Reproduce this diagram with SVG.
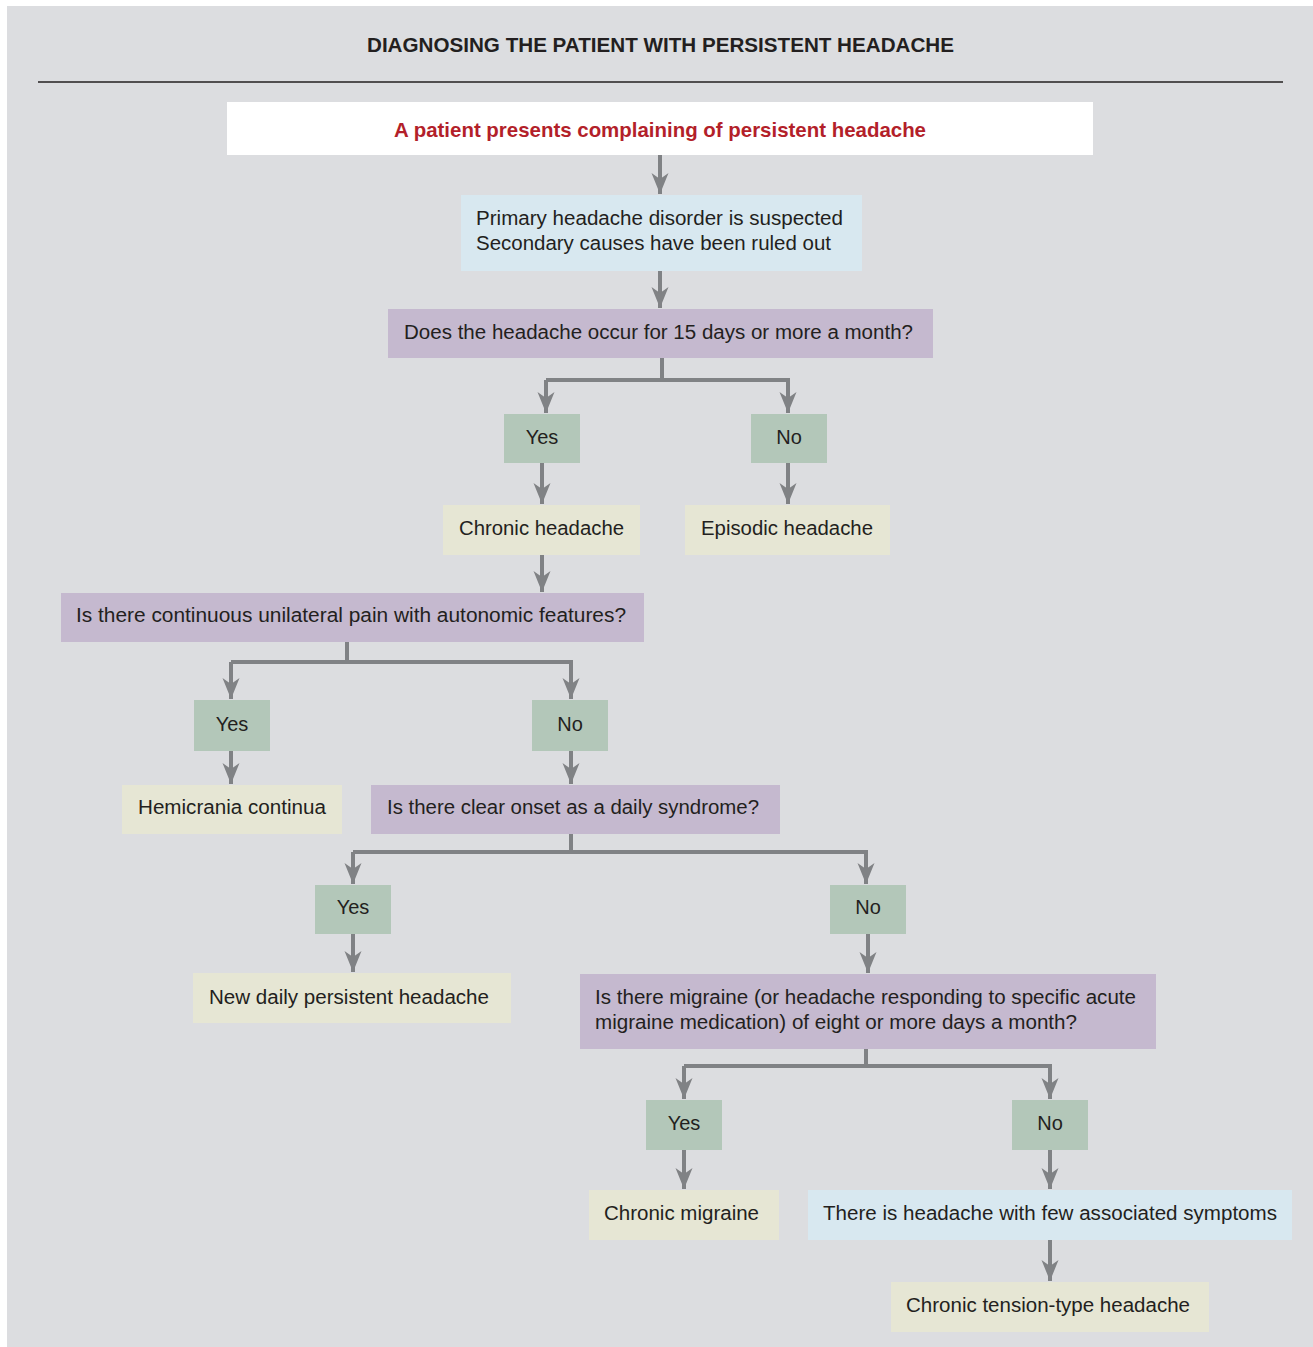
<svg xmlns="http://www.w3.org/2000/svg" width="1313" height="1347" viewBox="0 0 1313 1347">
<style>
.t{font-family:"Liberation Sans","DejaVu Sans",sans-serif;font-size:20px;fill:#231f20}
.yn{text-anchor:middle}
.title{font-family:"Liberation Sans",sans-serif;font-weight:bold;font-size:21px;fill:#231f20}
.red{font-family:"Liberation Sans",sans-serif;font-weight:bold;font-size:21px;fill:#b31f2a}
.p{fill:#c5b9cf}
.g{fill:#b3c7b9}
.b{fill:#e6e6d4}
.l{fill:#d8e8f0}
.w{fill:#ffffff}
.c{fill:none;stroke:#808285;stroke-width:4;marker-end:url(#ah)}
.s{fill:none;stroke:#808285;stroke-width:4}
</style>
<defs>
<marker id="ah" markerUnits="userSpaceOnUse" markerWidth="22" markerHeight="18" viewBox="0 0 22 18" refX="21" refY="9" orient="auto">
<path d="M21,9 L0,0.5 L6,9 L0,17.5 Z" fill="#808285"/>
</marker>
</defs>
<rect x="0" y="0" width="1313" height="1347" fill="#ffffff"/>
<rect x="7" y="6" width="1306" height="1341" fill="#dcdde0"/>
<g id="title">
<text class="title" x="367" y="52" textLength="587" lengthAdjust="spacingAndGlyphs">DIAGNOSING THE PATIENT WITH PERSISTENT HEADACHE</text>
<line x1="38" y1="82" x2="1283" y2="82" stroke="#231f20" stroke-width="1.5"/>
</g>
<g id="connectors">
<path class="c" d="M660,155 V194"/>
<path class="c" d="M660,271 V308"/>
<path class="s" d="M662,358 V380"/>
<path class="c" d="M546,380 H788 V413"/>
<path class="c" d="M546,380 V413"/>
<path class="c" d="M542,463 V504"/>
<path class="c" d="M788,463 V504"/>
<path class="c" d="M542,555 V592"/>
<path class="s" d="M347,642 V662"/>
<path class="c" d="M231,662 H571 V699"/>
<path class="c" d="M231,662 V699"/>
<path class="c" d="M231,751 V784"/>
<path class="c" d="M571,751 V784"/>
<path class="s" d="M571,834 V852"/>
<path class="c" d="M353,852 H866 V884"/>
<path class="c" d="M353,852 V884"/>
<path class="c" d="M353,934 V972"/>
<path class="c" d="M868,934 V973"/>
<path class="s" d="M866,1049 V1066"/>
<path class="c" d="M684,1066 H1050 V1099"/>
<path class="c" d="M684,1066 V1099"/>
<path class="c" d="M684,1150 V1189"/>
<path class="c" d="M1050,1150 V1189"/>
<path class="c" d="M1050,1240 V1281"/>
</g>
<g id="n-start"><rect class="w" x="227" y="102" width="866" height="53"/><text class="red" x="394" y="137" textLength="532" lengthAdjust="spacingAndGlyphs">A patient presents complaining of persistent headache</text></g>
<g id="n-primary"><rect class="l" x="461" y="195" width="401" height="76"/><text class="t" x="476" y="225" textLength="367" lengthAdjust="spacingAndGlyphs">Primary headache disorder is suspected</text><text class="t" x="476" y="250" textLength="355" lengthAdjust="spacingAndGlyphs">Secondary causes have been ruled out</text></g>
<g id="n-q1"><rect class="p" x="388" y="309" width="545" height="49"/><text class="t" x="404" y="339" textLength="509" lengthAdjust="spacingAndGlyphs">Does the headache occur for 15 days or more a month?</text></g>
<g id="n-q1-yes"><rect class="g" x="504" y="414" width="76" height="49"/><text class="t yn" x="542" y="444">Yes</text></g>
<g id="n-q1-no"><rect class="g" x="751" y="414" width="76" height="49"/><text class="t yn" x="789" y="444">No</text></g>
<g id="n-chronic"><rect class="b" x="443" y="505" width="197" height="50"/><text class="t" x="459" y="535" textLength="165" lengthAdjust="spacingAndGlyphs">Chronic headache</text></g>
<g id="n-episodic"><rect class="b" x="685" y="505" width="205" height="50"/><text class="t" x="701" y="535" textLength="172" lengthAdjust="spacingAndGlyphs">Episodic headache</text></g>
<g id="n-q2"><rect class="p" x="61" y="593" width="583" height="49"/><text class="t" x="76" y="622" textLength="550" lengthAdjust="spacingAndGlyphs">Is there continuous unilateral pain with autonomic features?</text></g>
<g id="n-q2-yes"><rect class="g" x="194" y="700" width="76" height="51"/><text class="t yn" x="232" y="731">Yes</text></g>
<g id="n-q2-no"><rect class="g" x="532" y="700" width="76" height="51"/><text class="t yn" x="570" y="731">No</text></g>
<g id="n-hemicrania"><rect class="b" x="122" y="785" width="220" height="49"/><text class="t" x="138" y="814" textLength="188" lengthAdjust="spacingAndGlyphs">Hemicrania continua</text></g>
<g id="n-q3"><rect class="p" x="371" y="785" width="409" height="49"/><text class="t" x="387" y="814" textLength="372" lengthAdjust="spacingAndGlyphs">Is there clear onset as a daily syndrome?</text></g>
<g id="n-q3-yes"><rect class="g" x="315" y="885" width="76" height="49"/><text class="t yn" x="353" y="914">Yes</text></g>
<g id="n-q3-no"><rect class="g" x="830" y="885" width="76" height="49"/><text class="t yn" x="868" y="914">No</text></g>
<g id="n-ndph"><rect class="b" x="193" y="973" width="318" height="50"/><text class="t" x="209" y="1004" textLength="280" lengthAdjust="spacingAndGlyphs">New daily persistent headache</text></g>
<g id="n-q4"><rect class="p" x="580" y="974" width="576" height="75"/><text class="t" x="595" y="1004" textLength="541" lengthAdjust="spacingAndGlyphs">Is there migraine (or headache responding to specific acute</text><text class="t" x="595" y="1029" textLength="482" lengthAdjust="spacingAndGlyphs">migraine medication) of eight or more days a month?</text></g>
<g id="n-q4-yes"><rect class="g" x="646" y="1100" width="76" height="50"/><text class="t yn" x="684" y="1130">Yes</text></g>
<g id="n-q4-no"><rect class="g" x="1012" y="1100" width="76" height="50"/><text class="t yn" x="1050" y="1130">No</text></g>
<g id="n-migraine"><rect class="b" x="589" y="1190" width="190" height="50"/><text class="t" x="604" y="1220" textLength="155" lengthAdjust="spacingAndGlyphs">Chronic migraine</text></g>
<g id="n-few"><rect class="l" x="808" y="1190" width="484" height="50"/><text class="t" x="823" y="1220" textLength="454" lengthAdjust="spacingAndGlyphs">There is headache with few associated symptoms</text></g>
<g id="n-tension"><rect class="b" x="891" y="1282" width="318" height="50"/><text class="t" x="906" y="1312" textLength="284" lengthAdjust="spacingAndGlyphs">Chronic tension-type headache</text></g>
</svg>
